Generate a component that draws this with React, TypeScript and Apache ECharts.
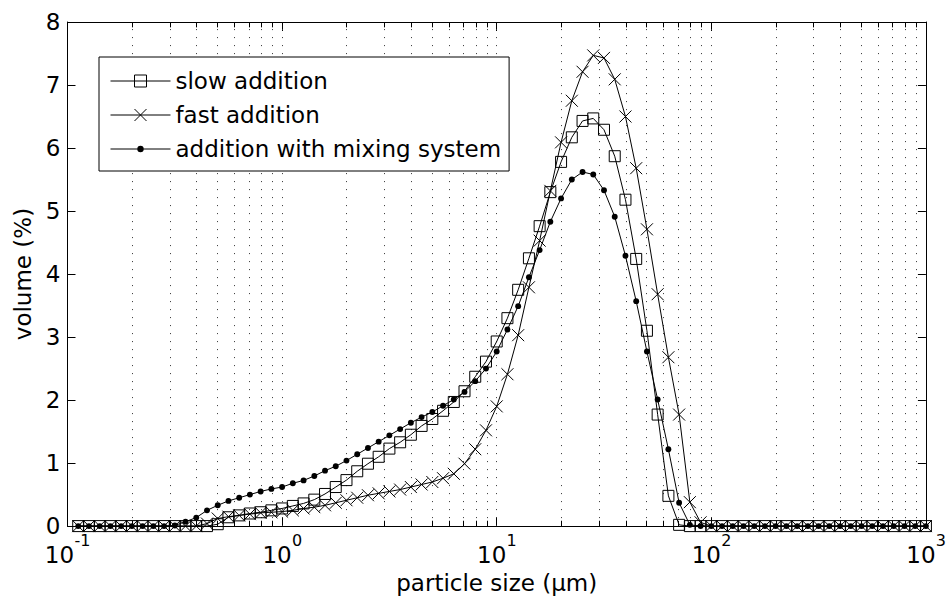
import React, { useEffect, useRef } from 'react';
import * as echarts from 'echarts';

// particle size bins (µm), log spaced
const X_SIZES = [
  0.1122, 0.1259, 0.1413, 0.1585, 0.1778, 0.1995, 0.2239, 0.2512, 0.2818, 0.3162,
  0.3548, 0.3981, 0.4467, 0.5012, 0.5623, 0.631, 0.7079, 0.7943, 0.8913, 1,
  1.122, 1.259, 1.413, 1.585, 1.778, 1.995, 2.239, 2.512, 2.818, 3.162,
  3.548, 3.981, 4.467, 5.012, 5.623, 6.31, 7.079, 7.943, 8.913, 10,
  11.22, 12.59, 14.13, 15.85, 17.78, 19.95, 22.39, 25.12, 28.18, 31.62,
  35.48, 39.81, 44.67, 50.12, 56.23, 63.1, 70.79, 79.43, 89.13, 100,
  112.2, 125.9, 141.3, 158.5, 177.8, 199.5, 223.9, 251.2, 281.8, 316.2,
  354.8, 398.1, 446.7, 501.2, 562.3, 631, 707.9, 794.3, 891.3, 1000,
];

const SLOW = [
  0, 0, 0, 0, 0, 0, 0, 0, 0, 0,
  0, 0, 0, 0.03, 0.14, 0.17, 0.2, 0.22, 0.25, 0.28,
  0.32, 0.36, 0.42, 0.51, 0.62, 0.73, 0.87, 0.99, 1.1, 1.23,
  1.33, 1.45, 1.59, 1.7, 1.83, 1.97, 2.14, 2.37, 2.61, 2.93,
  3.3, 3.75, 4.25, 4.76, 5.3, 5.78, 6.17, 6.43, 6.47, 6.29,
  5.87, 5.18, 4.24, 3.1, 1.77, 0.48, 0.02, 0, 0, 0,
  0, 0, 0, 0, 0, 0, 0, 0, 0, 0,
  0, 0, 0, 0, 0, 0, 0, 0, 0, 0,
];

const FAST = [
  0, 0, 0, 0, 0, 0, 0, 0, 0, 0,
  0, 0, 0.04, 0.12, 0.15, 0.17, 0.19, 0.21, 0.22, 0.23,
  0.25, 0.28, 0.3, 0.33, 0.37, 0.41, 0.45, 0.49, 0.52, 0.55,
  0.58, 0.62, 0.66, 0.7, 0.76, 0.83, 0.99, 1.22, 1.52, 1.9,
  2.41, 3.03, 3.79, 4.53, 5.32, 6.09, 6.75, 7.21, 7.47, 7.43,
  7.09, 6.5, 5.68, 4.71, 3.68, 2.68, 1.77, 0.38, 0.06, 0,
  0, 0, 0, 0, 0, 0, 0, 0, 0, 0,
  0, 0, 0, 0, 0, 0, 0, 0, 0, 0,
];

const MIXING = [
  0, 0, 0, 0, 0, 0, 0, 0, 0, 0.01,
  0.07, 0.135, 0.25, 0.33, 0.4, 0.45, 0.5, 0.55, 0.59, 0.62,
  0.68, 0.725, 0.795, 0.88, 0.95, 1.04, 1.14, 1.24, 1.34, 1.44,
  1.54, 1.64, 1.73, 1.81, 1.91, 2.01, 2.13, 2.3, 2.5, 2.77,
  3.12, 3.49, 3.95, 4.38, 4.83, 5.2, 5.5, 5.62, 5.58, 5.33,
  4.91, 4.29, 3.57, 2.77, 2.01, 1.22, 0.37, 0.02, 0, 0,
  0, 0, 0, 0, 0, 0, 0, 0, 0, 0,
  0, 0, 0, 0, 0, 0, 0, 0, 0, 0,
];

const SERIES_NAMES = ['slow addition', 'fast addition', 'addition with mixing system'];

const MINOR_VALUES = [
  0.2, 0.3, 0.4, 0.5, 0.6, 0.7, 0.8, 0.9,
  2, 3, 4, 5, 6, 7, 8, 9,
  20, 30, 40, 50, 60, 70, 80, 90,
  200, 300, 400, 500, 600, 700, 800, 900,
];
const MAJOR_INNER_VALUES = [1, 10, 100];

const Y_MIN = 0;
const Y_MAX = 8;

const FONT = 'DejaVu Sans';
const SQUARE = 'path://M0,0H12V12H0Z';
const CROSS = 'path://M0,0L12,12M12,0L0,12';
const DOT = 'path://M0,0M12,12M9.2,6A3.2,3.2,0,1,1,2.8,6A3.2,3.2,0,1,1,9.2,6Z';

function pairs(ys: number[]) {
  return ys.map((y, i) => [X_SIZES[i], y]);
}

function exponentOf(v: number) {
  return Math.round(Math.log10(v));
}

export default function App() {
  const ref = useRef<HTMLDivElement>(null);

  useEffect(() => {
    if (!ref.current) return;
    const chart = echarts.init(ref.current, undefined, { renderer: 'svg' });

    const minorTickLen = 0.085; // in y-data units (~5px)
    const gridLines = [...MINOR_VALUES, ...MAJOR_INNER_VALUES].map((v) => ({ xAxis: v }));
    const tickLines: any[] = [];
    MINOR_VALUES.forEach((v) => {
      tickLines.push([{ coord: [v, Y_MIN] }, { coord: [v, Y_MIN + minorTickLen] }]);
      tickLines.push([{ coord: [v, Y_MAX] }, { coord: [v, Y_MAX - minorTickLen] }]);
    });

    const xAxisBase = {
      type: 'log',
      logBase: 10,
      min: 0.1,
      max: 1000,
      splitLine: { show: false },
      axisLine: { onZero: false, lineStyle: { color: '#000', width: 1 } },
      axisTick: { inside: true, length: 9, lineStyle: { color: '#000' } },
    };

    const option: any = {
      animation: false,
      backgroundColor: '#fff',
      textStyle: { fontFamily: FONT },
      grid: { left: 67.5, right: 20.7, top: 22, bottom: 71.5, containLabel: false },
      legend: {
        orient: 'vertical',
        left: 99,
        top: 57,
        padding: [12, 8, 10, 11],
        itemWidth: 60,
        itemHeight: 15,
        itemGap: 10,
        backgroundColor: '#fff',
        borderColor: '#000',
        borderWidth: 1,
        borderRadius: 0,
        selectedMode: false,
        textStyle: { fontFamily: FONT, fontSize: 23, lineHeight: 24, color: '#000' },
        data: [
          {
            name: SERIES_NAMES[0],
            itemStyle: { color: 'none', borderColor: '#000', borderWidth: 1 },
            lineStyle: { color: '#000', width: 1 },
          },
          {
            name: SERIES_NAMES[1],
            itemStyle: { color: 'none', borderColor: '#000', borderWidth: 1 },
            lineStyle: { color: '#000', width: 1 },
          },
          {
            name: SERIES_NAMES[2],
            itemStyle: { color: '#000', borderWidth: 0 },
            lineStyle: { color: '#000', width: 1 },
          },
        ],
      },
      xAxis: [
        {
          // main bottom axis: base "10" of each decade label
          ...xAxisBase,
          position: 'bottom',
          name: 'particle size (µm)',
          nameLocation: 'middle',
          nameGap: 44,
          nameTextStyle: { fontFamily: FONT, fontSize: 23, color: '#000' },
          axisLabel: {
            show: true,
            margin: 17,
            showMinLabel: true,
            showMaxLabel: true,
            color: '#000',
            formatter: (v: number) => (exponentOf(v) < 0 ? '{n|10}' : '{p|10}'),
            rich: {
              n: { fontFamily: FONT, fontSize: 23, color: '#000', padding: [0, 16, 0, 0] },
              p: { fontFamily: FONT, fontSize: 23, color: '#000', padding: [0, 10, 0, 0] },
            },
          },
        },
        {
          // top box edge
          ...xAxisBase,
          position: 'top',
          axisLabel: { show: false },
        },
        {
          // exponents of the decade labels
          ...xAxisBase,
          position: 'bottom',
          axisLine: { show: false, onZero: false },
          axisTick: { show: false },
          axisLabel: {
            show: true,
            margin: 6,
            showMinLabel: true,
            showMaxLabel: true,
            color: '#000',
            formatter: (v: number) => `{e|${exponentOf(v)}}`,
            rich: {
              e: { fontFamily: FONT, fontSize: 16, color: '#000', padding: [0, 0, 0, 30] },
            },
          },
        },
      ],
      yAxis: [
        {
          type: 'value',
          min: Y_MIN,
          max: Y_MAX,
          interval: 1,
          position: 'left',
          name: 'volume (%)',
          nameLocation: 'middle',
          nameGap: 31,
          nameTextStyle: { fontFamily: FONT, fontSize: 23, color: '#000' },
          splitLine: { show: false },
          axisLine: { show: true, onZero: false, lineStyle: { color: '#000', width: 1 } },
          axisTick: { show: true, inside: true, length: 8, lineStyle: { color: '#000' } },
          axisLabel: { margin: 7, fontFamily: FONT, fontSize: 23, color: '#000' },
        },
        {
          type: 'value',
          min: Y_MIN,
          max: Y_MAX,
          interval: 1,
          position: 'right',
          splitLine: { show: false },
          axisLine: { show: true, onZero: false, lineStyle: { color: '#000', width: 1 } },
          axisTick: { show: true, inside: true, length: 8, lineStyle: { color: '#000' } },
          axisLabel: { show: false },
        },
      ],
      series: [
        {
          name: '__grid',
          type: 'line',
          data: [],
          symbol: 'none',
          silent: true,
          z: 1,
          markLine: {
            silent: true,
            z: 1,
            symbol: ['none', 'none'],
            label: { show: false },
            lineStyle: { color: '#333', width: 1, type: [1, 7] },
            emphasis: { disabled: true },
            data: gridLines,
          },
        },
        {
          name: '__ticks',
          type: 'line',
          data: [],
          symbol: 'none',
          silent: true,
          z: 1,
          markLine: {
            silent: true,
            z: 1,
            symbol: ['none', 'none'],
            label: { show: false },
            lineStyle: { color: '#000', width: 1, type: 'solid' },
            emphasis: { disabled: true },
            data: tickLines,
          },
        },
        {
          name: SERIES_NAMES[0],
          type: 'line',
          z: 3,
          data: pairs(SLOW),
          symbol: SQUARE,
          symbolSize: 11,
          showAllSymbol: true,
          lineStyle: { color: '#000', width: 1 },
          itemStyle: { color: 'none', borderColor: '#000', borderWidth: 1 },
          emphasis: { disabled: true },
        },
        {
          name: SERIES_NAMES[1],
          type: 'line',
          z: 3,
          data: pairs(FAST),
          symbol: CROSS,
          symbolSize: 12,
          showAllSymbol: true,
          lineStyle: { color: '#000', width: 1 },
          itemStyle: { color: 'none', borderColor: '#000', borderWidth: 1 },
          emphasis: { disabled: true },
        },
        {
          name: SERIES_NAMES[2],
          type: 'line',
          z: 3,
          data: pairs(MIXING),
          symbol: DOT,
          symbolSize: 11,
          showAllSymbol: true,
          lineStyle: { color: '#000', width: 1 },
          itemStyle: { color: '#000', borderWidth: 0 },
          emphasis: { disabled: true },
        },
      ],
    };

    chart.setOption(option);
    return () => chart.dispose();
  }, []);

  return (
    <div
      ref={ref}
      style={{ position: 'absolute', left: 0, top: 0, width: 949, height: 599, background: '#fff' }}
    />
  );
}
